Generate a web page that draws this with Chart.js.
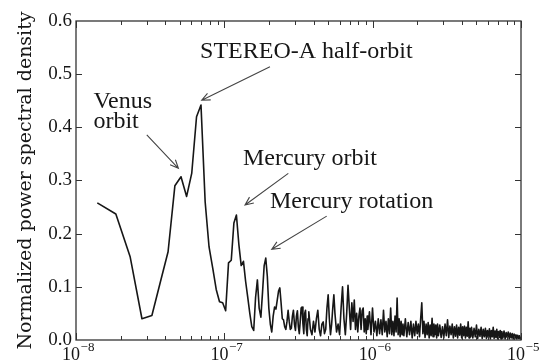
<!DOCTYPE html>
<html lang="en">
<head>
  <meta charset="UTF-8" />
  <title>Normalized power spectral density</title>
  <script src="https://cdn.jsdelivr.net/npm/chart.js"></script>
  <style>
    html, body { margin: 0; padding: 0; background: #fff; }
  </style>
</head>
<body>
  <canvas id="chart" width="553" height="363"></canvas>

  <script>
    // frequency resolution of the periodogram (Hz per bin)
    const DF = 4.64e-9;

    // frequency bins that are drawn (dense part is thinned out)
    const bins = [
      3, 4, 5, 6, 7, 8, 9, 10, 11, 12, 13, 14, 15, 16, 17, 18, 19, 20,
      21, 22, 23, 24, 25, 26, 27, 28, 29, 30, 31, 32, 33, 34, 35, 36, 37, 38, 39, 40,
      41, 42, 43, 44, 45, 46, 47, 48, 49, 50, 51, 52, 53, 54, 55, 56, 57, 58, 59, 60,
      61, 62, 63, 64, 65, 66, 67, 68, 69, 70, 71, 72, 73, 74, 75, 76, 77, 78, 79, 80,
      82, 84, 86, 88, 90, 92, 94, 96, 98, 100, 102, 104, 106, 108, 110, 112, 114, 116, 118, 120,
      123, 126, 129, 132, 135, 138, 141, 144, 147, 150, 153, 156, 159, 162, 165, 168, 171, 174, 177, 180,
      183, 186, 189, 192, 195, 198,
      200, 205, 210, 215, 220, 225, 230, 235, 240, 245, 250, 255, 260, 265, 270, 275, 280, 285, 290, 295,
      300, 305, 310, 315, 320, 325, 330, 335, 340, 345,
      350, 358, 366, 374, 382, 390, 398, 406, 414, 422, 430, 438, 446, 454, 462, 470, 478, 486, 494, 502,
      510, 518, 526, 534, 542, 550, 558, 566, 574, 582, 590, 598,
      611, 624, 637, 650, 663, 676, 689, 702, 715, 728, 741, 754, 767, 780, 793, 806, 819, 832, 845, 858,
      871, 884, 897, 910, 923, 936, 949, 962, 975, 988,
      1000, 1020, 1040, 1060, 1080, 1100, 1120, 1140, 1160, 1180, 1200, 1220, 1240, 1260, 1280, 1300, 1320, 1340, 1360, 1380,
      1400, 1420, 1440, 1460, 1480, 1500, 1520, 1540, 1560, 1580,
      1600, 1628, 1656, 1684, 1712, 1740, 1768, 1796, 1824, 1852, 1880, 1908, 1936, 1964, 1992, 2020,
      2048, 2076, 2104, 2132, 2155
    ];

    // normalized power spectral density, one value per bin above
    const psd = [
      .258, .237, .156, .040, .046, .110, .166, .290, .307, .270, .314, .420, .442, .260, .175, .135, .095, .072,
      .070, .055, .145, .150, .220, .235, .180, .140, .148, .110, .080, .050, .025, .018, .080, .113, .060, .043, .090, .140,
      .154, .120, .060, .030, .015, .045, .062, .058, .075, .092, .098, .070, .040, .038, .025, .020, .035, .056, .035, .020,
      .022, .045, .056, .030, .018, .045, .055, .025, .012, .035, .060, .062, .030, .012, .050, .056, .020, .008, .040, .053,
      .020, .010, .035, .015, .040, .056, .020, .008, .030, .034, .012, .020, .060, .085, .040, .010, .030, .060, .085, .050,
      .015, .030, .010, .060, .100, .040, .010, .050, .103, .060, .020, .070, .035, .075, .020, .050, .015, .045, .060, .020,
      .055, .060, .015, .040, .012, .045,
      .020, .053, .010, .060, .015, .035, .008, .040, .012, .038, .010, .056, .015, .035, .006, .040, .012, .060, .010, .035,
      .008, .045, .015, .079, .010, .040, .006, .035, .010, .030,
      .008, .040, .006, .033, .010, .035, .004, .030, .008, .035, .012, .030, .006, .040, .070, .012, .035, .005, .030, .010,
      .033, .004, .028, .008, .041, .006, .030, .010, .028, .004, .030, .008,
      .028, .005, .025, .004, .030, .008, .038, .005, .026, .010, .030, .004, .025, .007, .028, .004, .024, .009, .030, .004,
      .025, .008, .026, .004, .024, .007, .034, .004, .022, .006,
      .024, .004, .022, .006, .028, .003, .020, .007, .024, .003, .020, .006, .022, .003, .018, .005, .021, .002, .018, .006,
      .024, .003, .017, .005, .020, .002, .016, .005, .018, .002,
      .016, .004, .017, .002, .014, .005, .015, .002, .013, .004, .012, .002, .011, .004, .010, .002,
      .009, .003, .008, .002, .006
    ];

    const xLabelExps = [-8, -7, -6, -5];

    // annotations: text (left, baseline) and arrow tail -> head, in data units
    const notes = [
      { lines: ['STEREO-A half-orbit'], at: [6.86e-8, 0.530], from: [2.03e-7, 0.514], to: [7.04e-8, 0.451] },
      { lines: ['Venus', 'orbit'], at: [1.31e-8, 0.436], from: [3.0e-8, 0.386], to: [4.90e-8, 0.323] },
      { lines: ['Mercury orbit'], at: [1.336e-7, 0.329], from: [2.70e-7, 0.3135], to: [1.379e-7, 0.254] },
      { lines: ['Mercury rotation'], at: [2.03e-7, 0.248], from: [4.90e-7, 0.233], to: [2.088e-7, 0.1706] }
    ];

    const points = bins.map((k, i) => ({ x: k * DF, y: psd[i] }));

    const ink = '#161616';
    const serif = '"Liberation Serif", "Times New Roman", serif';

    // box, inward ticks, x labels with exponents, annotations
    const decorPlugin = {
      id: 'decor',
      afterDraw(chart) {
        const { ctx, chartArea: a, scales: { x, y } } = chart;
        ctx.save();
        ctx.strokeStyle = '#333';
        ctx.lineWidth = 1.3;
        ctx.strokeRect(a.left, a.top, a.right - a.left, a.bottom - a.top);

        // x ticks (log decades with minor ticks)
        ctx.lineWidth = 1;
        ctx.beginPath();
        for (let e = -8; e <= -5; e++) {
          for (let m = 1; m <= 9; m++) {
            if (e === -5 && m > 1) break;
            const px = Math.round(x.getPixelForValue(m * Math.pow(10, e))) + 0.5;
            const len = m === 1 ? 7 : 4;
            ctx.moveTo(px, a.bottom); ctx.lineTo(px, a.bottom - len);
            ctx.moveTo(px, a.top); ctx.lineTo(px, a.top + len);
          }
        }
        // y ticks
        for (let v = 0.1; v < 0.6; v += 0.1) {
          const py = Math.round(y.getPixelForValue(v)) + 0.5;
          ctx.moveTo(a.left, py); ctx.lineTo(a.left + 6, py);
          ctx.moveTo(a.right, py); ctx.lineTo(a.right - 6, py);
        }
        ctx.stroke();

        // x labels 10^n
        ctx.fillStyle = ink;
        ctx.textBaseline = 'alphabetic';
        ctx.textAlign = 'left';
        xLabelExps.forEach(e => {
          const px = x.getPixelForValue(Math.pow(10, e));
          ctx.font = '18px ' + serif;
          const w1 = ctx.measureText('10').width;
          ctx.font = '13px ' + serif;
          const sup = '\u2212' + Math.abs(e);
          const w2 = ctx.measureText(sup).width;
          const x0 = px + 2 - (w1 + w2) / 2;
          ctx.font = '18px ' + serif;
          ctx.fillText('10', x0, a.bottom + 20);
          ctx.font = '13px ' + serif;
          ctx.fillText(sup, x0 + w1 + 0.5, a.bottom + 11);
        });

        // annotations
        ctx.font = '24px ' + serif;
        notes.forEach(n => {
          const tx = x.getPixelForValue(n.at[0]);
          const ty = y.getPixelForValue(n.at[1]);
          n.lines.forEach((t, i) => ctx.fillText(t, tx, ty + i * 20));

          const x1 = x.getPixelForValue(n.from[0]), y1 = y.getPixelForValue(n.from[1]);
          const x2 = x.getPixelForValue(n.to[0]), y2 = y.getPixelForValue(n.to[1]);
          const ang = Math.atan2(y2 - y1, x2 - x1);
          const hl = 9, ha = 0.42;
          ctx.strokeStyle = '#444';
          ctx.lineWidth = 1.1;
          ctx.beginPath();
          ctx.moveTo(x1, y1); ctx.lineTo(x2, y2);
          ctx.moveTo(x2 - hl * Math.cos(ang - ha), y2 - hl * Math.sin(ang - ha));
          ctx.lineTo(x2, y2);
          ctx.lineTo(x2 - hl * Math.cos(ang + ha), y2 - hl * Math.sin(ang + ha));
          ctx.stroke();
        });
        ctx.restore();
      }
    };

    new Chart(document.getElementById('chart').getContext('2d'), {
      type: 'line',
      data: {
        datasets: [{
          data: points,
          borderColor: ink,
          borderWidth: 1.6,
          borderJoinStyle: 'round',
          pointRadius: 0,
          tension: 0,
          fill: false
        }]
      },
      options: {
        responsive: false,
        animation: false,
        layout: { padding: { left: 0, right: 32, top: 21, bottom: 0 } },
        plugins: { legend: { display: false }, tooltip: { enabled: false } },
        scales: {
          x: {
            type: 'logarithmic',
            min: 1e-8,
            max: 1e-5,
            ticks: { display: false },
            grid: { display: false, drawTicks: false },
            border: { display: false },
            afterFit(scale) { scale.height = 23; }
          },
          y: {
            min: 0,
            max: 0.6,
            ticks: {
              stepSize: 0.1,
              padding: 4,
              color: ink,
              font: { family: serif, size: 19 },
              callback: v => v.toFixed(1)
            },
            grid: { display: false, drawTicks: false },
            border: { display: false },
            title: {
              display: true,
              text: 'Normalized power spectral density',
              color: ink,
              font: { family: '"DejaVu Serif", serif', size: 19 },
              padding: { top: 15, bottom: 0 }
            },
            afterFit(scale) { scale.width = 76; }
          }
        }
      },
      plugins: [decorPlugin]
    });
  </script>
</body>
</html>
